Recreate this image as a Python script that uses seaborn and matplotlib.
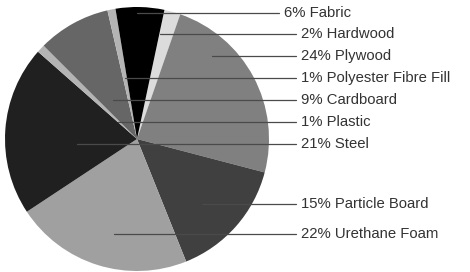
import seaborn as sns
from matplotlib import pyplot as plt

# materials, clockwise from just right of 12 o'clock
materials = ['Hardwood', 'Plywood', 'Particle Board', 'Urethane Foam', 'Steel',
             'Plastic', 'Cardboard', 'Polyester Fibre Fill', 'Fabric']
shares = [2, 24, 15, 22, 21, 1, 9, 1, 6]
colors = ['#dcdcdc', '#808080', '#404040', '#a0a0a0', '#202020',
          '#b4b4b4', '#666666', '#b4b4b4', '#000000']

# label order on the right and their layout (pixels: line start x, y)
label_order = ['Fabric', 'Hardwood', 'Plywood', 'Polyester Fibre Fill', 'Cardboard',
               'Plastic', 'Steel', 'Particle Board', 'Urethane Foam']
line_start_x = [137, 160, 212, 125, 113, 118, 77, 202, 114]
label_y = [13, 34, 56, 78, 100, 122, 144, 204, 234]

sns.set_style('white')
plt.rcParams['font.family'] = ['Liberation Sans', 'DejaVu Sans']

W, H = 470, 272
cx, cy, R = 137, 139, 132
fig = plt.figure(figsize=(W / 100, H / 100), dpi=100)
ax = fig.add_axes([(cx - R) / W, (H - cy - R) / H, 2 * R / W, 2 * R / H])

ax.pie(shares, colors=colors, startangle=78, counterclock=False,
       wedgeprops=dict(linewidth=0))
ax.set_xlim(-1, 1)
ax.set_ylim(-1, 1)
ax.set_aspect('equal')
ax.axis('off')

def to_data(px, py):
    return (px - cx) / R, (cy - py) / R

pct = dict(zip(materials, shares))
for name, sx, sy in zip(label_order, line_start_x, label_y):
    end_x = 279 if name == 'Fabric' else 296
    x0, y0 = to_data(sx, sy)
    x1, y1 = to_data(end_x, sy)
    ax.plot([x0, x1], [y0, y1], color='#4a4a4a', lw=0.9, clip_on=False)
    ax.text(x1 + 5 / R, y1, f'{pct[name]}% {name}', va='center', ha='left',
            fontsize=10.7, color='#333333', clip_on=False)

plt.savefig('out.png', dpi=100)
